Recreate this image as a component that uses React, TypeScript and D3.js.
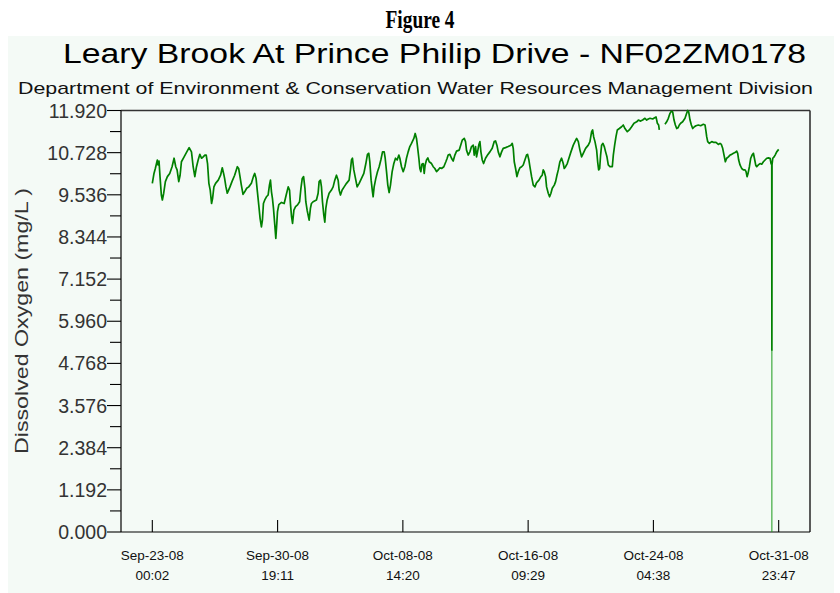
import React from "react";
import * as d3 from "d3";

// Hours elapsed since Sep-23-08 00:02 (hourly logger readings)
const hoursFromStart = [
  0, 2.5, 4.5, 7.5, 8.5, 10, 11.5, 13.5, 15, 17, 19.5, 22.5, 26, 29.5, 32.5, 35, 37, 39.5, 41.5, 43.5,
  47.5, 51.5, 55, 58.5, 61, 63.5, 66, 68.5, 71, 73.5, 76, 78.5, 80.5, 82.5, 84.5, 86.5, 88.5, 90, 92, 94.5,
  98.5, 102, 104.5, 106.5, 108, 110, 112, 114, 116, 119, 123, 127, 129, 131, 133, 135.5, 138, 141, 144, 148,
  151, 153, 155, 157, 159, 161, 163, 164.5, 166, 168, 170.5, 173, 175, 176.5, 178, 179.5, 181, 183, 184.5, 186,
  187, 189, 193, 197, 200, 203, 205, 206.5, 208, 209.5, 211.5, 214, 217, 220, 222, 224, 226,
  228, 229.3, 231.3, 234.3, 236.2, 237.7, 240.2, 245.2, 247.7, 249.2, 251.2, 252.7, 254.2, 256.2, 257.7, 259.2,
  261.2, 264.1, 267.6, 270.1, 272.6, 275.1, 277.6, 279.1, 281.1, 283.6, 286.6, 290.1, 294, 296, 297.5, 299,
  301, 303, 306, 309, 312.5, 316, 319, 321.4, 323.4, 324.9, 326.9, 328.9, 329.9, 331.4, 333.9, 336.4, 338.9,
  341.4, 343.9, 346.4, 347.9, 349.9, 351.8, 353.8, 355.8, 358.3, 360.8, 363.3, 365.8, 368.3, 369.8, 372.3,
  374.8, 377.3, 379.7, 382.2, 384.7, 387.2, 390.7, 392.7, 394.7, 396.2, 398.2, 399.7, 401.2, 402.7, 404.7,
  406.2, 407.6, 409.6, 411.6, 413.6, 417.1, 419.6, 422.1, 424.6, 427.1, 429.6, 432.1, 435.5, 438.5, 440.5,
  442, 444.5, 447, 449.5, 452, 454.5, 458.5,
  463, 466, 467.9, 469.4, 471.9, 474.4, 476.9, 479.4, 480.9, 482.9, 484.4, 485.9, 487.9, 489.4, 490.9, 492.9,
  494.9, 497.8, 500.8, 504.3, 507.8, 510.8, 512.8, 514.8, 516.8, 519.3, 521.8, 524.2, 527.7, 531.7, 535.7,
  537.7, 539.2, 540.7, 542.7, 544.7, 546.7, 549.2, 551.7, 554.1, 556.6, 559.1, 560.6, 562.6, 564.1, 566.6,
  569.1, 571.6, 573.6, 575.6, 577.6, 580.5, 582.5, 584, 585.5, 587.5, 589, 591.5, 593.5, 595.5, 597.5, 600.5,
  602.5, 604.5, 606.5, 608.9, 611.4, 613.9, 615.4, 617.4, 619.9, 622.4, 625.4, 628.9, 631.4, 633.9, 636.4,
  638.8, 641.3, 643.8, 647.3, 651.3, 653.8, 656.3, 657.8, 659.3, 661.3, 663.8, 665.3, 666.8, 668.3, 669.7,
  671.2, 673.2, 675.2, 677.2, 679.2, 681.2, 683.7, 687.2,
  688.7, 690.7, 692.7, 694.7, 697.7, 701.1, 703.6, 706.1, 709.6, 712.6, 716.1, 719.6, 723.6, 726.1, 729.5,
  732.5, 736, 738.5, 741, 743.5, 747.5, 751, 752.5, 754.5, 756.4, 757.4,
  761,
  765.9, 768.4, 770.9, 773.4, 775.4, 777.4, 779.4, 781.4, 783.4, 785.3, 787.3, 789.3, 792.3, 795.8, 798.3,
  799.8, 801.3, 803.3, 805.3, 807.3, 809.8, 812.2, 815.7, 819.2, 823.2, 825.7, 827.2, 828.2, 829.7, 832.2,
  835.7, 838.2, 842.1, 845.6, 848.1, 850.1, 852.1, 854.1, 856.1, 858.1, 860.6, 863.1, 865.6, 868.1, 870.5,
  873, 874.5, 876, 878, 880.5, 883, 885.5, 887, 888.5, 890, 892, 894, 896, 898, 900, 901.4, 902.9, 905.4,
  907.9, 910.4, 912.9, 915.4, 917.9, 920.4, 922.9, 924.4, 925.4, 925.6, 925.8, 926.9, 928.9, 930.4, 932.8, 935.75,
];

// Dissolved oxygen (mg/L); null = missing readings
const oxygen: (number | null)[] = [
  9.86, 10.14, 10.28, 10.52, 10.38, 10.49, 10.05, 9.53, 9.39, 9.58, 9.91, 10.05, 10.14, 10.33, 10.57, 10.33, 10.24, 9.91, 10.09, 10.47,
  10.61, 10.75, 10.87, 10.75, 10.33, 10.05, 10.33, 10.52, 10.68, 10.57, 10.61, 10.66, 10.66, 10.42, 9.86, 9.67, 9.29, 9.43, 9.76, 9.86,
  9.95, 10.09, 10.3, 10.14, 10.0, 9.76, 9.58, 9.67, 9.76, 9.91, 10.09, 10.33, 10.28, 10.05, 9.81, 9.55, 9.62, 9.72, 9.76, 9.86,
  10.05, 10.14, 10.0, 9.62, 9.25, 8.87, 8.63, 8.82, 9.29, 9.39, 9.48, 9.53, 9.81, 9.95, 9.62, 9.43, 9.15, 8.68, 8.3, 8.73,
  9.06, 9.26, 9.32, 9.29, 9.53, 9.76, 9.67, 9.25, 8.92, 8.73, 9.1, 9.2, 9.25, 9.34, 9.72, 10.0, 10.05,
  9.72, 9.34, 9.1, 8.82, 9.15, 9.29, 9.34, 9.39, 9.58, 9.91, 9.95, 9.76, 9.34, 8.96, 8.76, 9.15,
  9.39, 9.58, 9.67, 9.76, 9.95, 10.09, 9.95, 9.67, 9.53, 9.67, 9.76, 9.86, 9.95, 10.24, 10.52, 10.57,
  10.24, 10.05, 9.76, 9.86, 10.0, 10.14, 10.42, 10.68, 10.71, 10.47, 9.95, 9.62, 9.48, 9.76, 10.0, 10.19, 10.33,
  10.52, 10.75, 10.75, 10.57, 10.19, 9.81, 9.6, 9.81, 10.19, 10.42, 10.57, 10.52, 10.66, 10.57, 10.33,
  10.19, 10.33, 10.57, 10.75, 10.9, 10.99, 11.13, 11.27, 11.13, 10.9, 10.57, 10.28, 10.19, 10.4, 10.42,
  10.14, 10.38, 10.52, 10.58, 10.47, 10.42, 10.33, 10.28, 10.19, 10.24, 10.3, 10.28, 10.33, 10.47, 10.57,
  10.66, 10.68, 10.57, 10.49, 10.66, 10.77, 10.8,
  11.08, 11.13, 11.04, 10.8, 10.66, 10.75, 10.9, 10.94, 10.66, 10.9, 10.61, 10.75, 10.96, 11.04, 10.75, 10.52,
  10.42, 10.57, 10.66, 10.75, 10.85, 11.04, 11.06, 10.94, 10.75, 10.61, 10.75, 10.85, 10.87, 10.9, 10.94,
  10.99, 10.85, 10.47, 10.28, 10.05, 10.19, 10.3, 10.33, 10.38, 10.52, 10.66, 10.68, 10.52, 10.33, 10.05,
  9.81, 9.76, 9.86, 9.91, 9.95, 10.05, 10.09, 10.24, 10.19, 10.05, 9.76, 9.58, 9.48, 9.58, 9.72, 9.81,
  9.91, 10.09, 10.24, 10.47, 10.57, 10.42, 10.28, 10.33, 10.42, 10.57, 10.75, 10.94, 11.04, 11.13, 11.04,
  10.8, 10.61, 10.71, 10.85, 10.94, 11.04, 11.32, 11.37, 11.18, 11.04, 10.8, 10.47, 10.24, 10.28, 10.66,
  10.94, 10.99, 10.9, 10.75, 10.61, 10.38, 10.33, 10.33,
  10.66, 10.94, 11.18, 11.37, 11.41, 11.46, 11.51, 11.41, 11.32, 11.37, 11.46, 11.56, 11.6, 11.65, 11.62,
  11.65, 11.7, 11.65, 11.68, 11.7, 11.68, 11.72, 11.74, 11.56, 11.51, 11.37,
  null,
  11.53, 11.6, 11.7, 11.84, 11.9, 11.88, 11.65, 11.51, 11.41, 11.43, 11.51, 11.56, 11.6, 11.7, 11.84,
  11.92, 11.88, 11.65, 11.51, 11.41, 11.46, 11.49, 11.51, 11.49, 11.53, 11.51, 11.32, 11.18, 11.04, 10.99,
  11.04, 11.02, 11.02, 10.96, 10.99, 10.96, 10.85, 10.66, 10.47, 10.57, 10.61, 10.66, 10.68, 10.71, 10.73,
  10.77, 10.71, 10.52, 10.38, 10.28, 10.24, 10.24, 10.19, 10.05, 10.14, 10.33, 10.57, 10.66, 10.71, 10.52, 10.38, 10.33, 10.38,
  10.42, 10.4, 10.47, 10.52, 10.57, 10.58, 10.57, 10.42, 10.38, 5.15, 10.38, 10.57, 10.61, 10.66, 10.75, 10.82,
];

// Sensor drop-out spike at the end of the record
const spikeHour = 925.6;
const spikeValues = [5.15, 0];

const yTickValues = [0, 1.192, 2.384, 3.576, 4.768, 5.96, 7.152, 8.344, 9.536, 10.728, 11.92];
const xTickDates = [
  "2008-09-23T00:02", "2008-09-30T19:11", "2008-10-08T14:20",
  "2008-10-16T09:29", "2008-10-24T04:38", "2008-10-31T23:47",
];
const xTickLine1 = ["Sep-23-08", "Sep-30-08", "Oct-08-08", "Oct-16-08", "Oct-24-08", "Oct-31-08"];
const xTickLine2 = ["00:02", "19:11", "14:20", "09:29", "04:38", "23:47"];

const figureLabel = "Figure 4";
const title = "Leary Brook At Prince Philip Drive - NF02ZM0178";
const subtitle = "Department of Environment & Conservation Water Resources Management Division";
const yLabel = "Dissolved Oxygen (mg/L )";

export default function App() {
  const W = 840, H = 593;
  const left = 121, right = 810, top = 110.5, bottom = 532;
  const start = new Date(2008, 8, 23, 0, 2).getTime();
  const end = new Date(2008, 9, 31, 23, 47).getTime();
  const pad = (end - start) * 0.05;
  const x = d3.scaleTime().domain([new Date(start - pad), new Date(end + pad)]).range([left, right]);
  const y = d3.scaleLinear().domain([0, 11.92]).range([bottom, top]);

  const pts = hoursFromStart.map((h, i) => ({ t: new Date(start + h * 3600e3), v: oxygen[i] }));
  const line = d3
    .line<{ t: Date; v: number | null }>()
    .defined((d) => d.v != null)
    .x((d) => x(d.t))
    .y((d) => y(d.v as number));
  const spikeT = new Date(start + spikeHour * 3600e3);
  const spikeLine = d3
    .line<number>()
    .x(() => x(spikeT))
    .y((v) => y(v));

  const minorTicks = d3.pairs(yTickValues).map(([a, b]) => (a + b) / 2);
  const fmt = d3.format(".3f");
  const sans = "'Liberation Sans', Arial, sans-serif";

  return (
    <svg
      width={W}
      height={H}
      style={{ position: "absolute", left: 0, top: 0, display: "block", background: "#ffffff" }}
    >
      <rect x={8} y={36} width={826} height={H - 36} fill="#f4faf6" />
      <text x={420} y={28} textAnchor="middle" fontFamily="'Liberation Serif', 'Times New Roman', serif"
        fontWeight="bold" fontSize={26} fill="#000" textLength={69}
        lengthAdjust="spacingAndGlyphs">{figureLabel}</text>
      <text x={63} y={63} fontFamily={sans} fontSize={27} fill="#000" textLength={743}
        lengthAdjust="spacingAndGlyphs">{title}</text>
      <text x={18} y={94} fontFamily={sans} fontSize={17} fill="#111" textLength={795}
        lengthAdjust="spacingAndGlyphs">{subtitle}</text>

      {/* frame */}
      <line x1={left} x2={right} y1={top} y2={top} stroke="#333" strokeWidth={1.6} />
      <line x1={right} x2={right} y1={top} y2={bottom} stroke="#333" strokeWidth={1.6} />
      <line x1={left} x2={left} y1={top} y2={bottom} stroke="#000" strokeWidth={1.2} />
      <line x1={left} x2={right} y1={bottom} y2={bottom} stroke="#000" strokeWidth={1.2} />

      {/* y ticks */}
      {yTickValues.map((v) => (
        <g key={"y" + v}>
          <line x1={left - 14} x2={left} y1={y(v)} y2={y(v)} stroke="#000" strokeWidth={1.1} />
          <text x={left - 14} y={y(v)} dy="0.36em" textAnchor="end" fontFamily={sans} fontSize={19.5}
            fill="#333">{fmt(v)}</text>
        </g>
      ))}
      {minorTicks.map((v) => (
        <line key={"m" + v} x1={left - 11} x2={left} y1={y(v)} y2={y(v)} stroke="#000" strokeWidth={1.1} />
      ))}

      {/* x ticks */}
      {xTickDates.map((s, i) => {
        const xx = x(new Date(s));
        return (
          <g key={s}>
            <line x1={xx} x2={xx} y1={bottom} y2={bottom - 12} stroke="#000" strokeWidth={1.1} />
            <text x={xx} y={560} textAnchor="middle" fontFamily={sans} fontSize={13.5} fill="#111">
              {xTickLine1[i]}
            </text>
            <text x={xx} y={580} textAnchor="middle" fontFamily={sans} fontSize={13.5} fill="#111">
              {xTickLine2[i]}
            </text>
          </g>
        );
      })}

      <text transform="translate(28,321) rotate(-90)" textAnchor="middle" fontFamily={sans} fontSize={19}
        fill="#333" textLength={266} lengthAdjust="spacingAndGlyphs">{yLabel}</text>

      {/* data */}
      <path d={spikeLine(spikeValues) || ""} fill="none" stroke="#1a9a1a" strokeWidth={1} />
      <path d={line(pts) || ""} fill="none" stroke="#008000" strokeWidth={1.7} strokeLinejoin="round" />
    </svg>
  );
}
